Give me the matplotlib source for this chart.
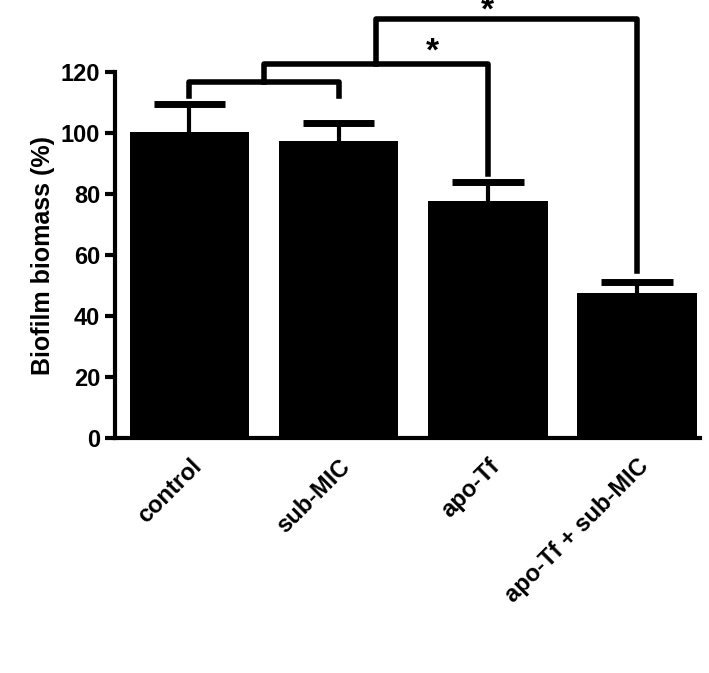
import matplotlib
matplotlib.use("Agg")
import matplotlib.pyplot as plt
import numpy as np

plt.rcParams['font.family'] = 'Liberation Sans'
plt.rcParams['font.weight'] = 'bold'

categories = ['control', 'sub-MIC', 'apo-Tf', 'apo-Tf + sub-MIC']
means = [100.5, 97.3, 77.8, 47.5]
errors = [9.1, 5.9, 6.2, 3.7]

fig = plt.figure(figsize=(7.09, 6.73), dpi=100)
ax = fig.add_axes([0.162, 0.349, 0.825, 0.544])
x = np.arange(len(categories))
ax.bar(x, means, 0.8, color='black')
# upper error bars only
tops = np.array(means) + np.array(errors)
ax.vlines(x, means, tops, color='black', lw=3)
ax.hlines(tops, x - 0.24, x + 0.24, color='black', lw=5)

ax.set_xlim(-0.5, 3.42)
ax.set_ylim(0, 120)
ax.set_yticks(np.arange(0, 121, 20))
ax.set_xticks(x)
ax.set_xticklabels(categories, rotation=45, ha='right', rotation_mode='anchor', fontsize=17)
ax.tick_params(axis='y', labelsize=17, width=3, length=7)
ax.tick_params(axis='x', length=0, pad=12)
ax.spines['top'].set_visible(False)
ax.spines['right'].set_visible(False)
ax.spines['left'].set_linewidth(3)
ax.spines['bottom'].set_linewidth(3)
ax.set_ylabel('Biofilm biomass (%)', fontsize=18, fontweight='bold')

def bracket(x1, x2, y, d1, d2):
    ax.plot([x1, x1, x2, x2], [d1, y, y, d2], color='black', lw=4,
            clip_on=False, solid_joinstyle='round')

bracket(0, 1, 116.7, 112.3, 112.3)
m1 = 0.5
bracket(m1, 2, 122.7, 116.7, 86.7)
ax.text(1.63, 126.5, '*', fontsize=24, ha='center', va='center')
m2 = (m1 + 2) / 2
bracket(m2, 3, 137.5, 122.7, 54.8)
ax.text(2.0, 140.0, '*', fontsize=24, ha='center', va='center')

fig.savefig('out.png', dpi=100)
